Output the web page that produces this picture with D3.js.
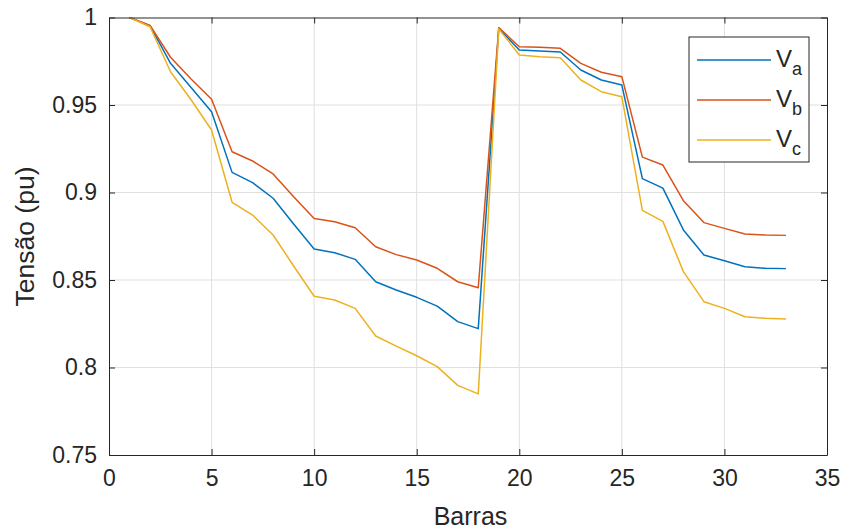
<!DOCTYPE html>
<html><head><meta charset="utf-8">
<script src="https://cdn.jsdelivr.net/npm/d3@7"></script>
<style>body{margin:0;background:#fff}svg{display:block}text{font-family:"Liberation Sans",Arial,sans-serif;fill:#262626}</style>
</head><body><svg id="c" width="846" height="532"></svg>
<script>
const bars = d3.range(1, 34);
const Va = [1.0, 0.9953, 0.9738, 0.960, 0.9462, 0.9115, 0.9056, 0.8967, 0.882, 0.8677, 0.8656, 0.8618, 0.849, 0.8443, 0.8401, 0.8351, 0.8262, 0.8222, 0.9938, 0.9814, 0.9809, 0.9803, 0.970, 0.9643, 0.9614, 0.9079, 0.9025, 0.8786, 0.8643, 0.861, 0.8576, 0.8567, 0.8565];
const Vb = [1.0, 0.9955, 0.9773, 0.9649, 0.9533, 0.9233, 0.918, 0.9106, 0.8976, 0.8851, 0.8833, 0.8799, 0.869, 0.8645, 0.8614, 0.8567, 0.849, 0.8456, 0.9942, 0.9833, 0.983, 0.9824, 0.9738, 0.9687, 0.9662, 0.9202, 0.9157, 0.8953, 0.8828, 0.8795, 0.8763, 0.8757, 0.8755];
const Vc = [1.0, 0.9947, 0.969, 0.953, 0.9357, 0.8944, 0.8871, 0.8757, 0.858, 0.8407, 0.8386, 0.8338, 0.818, 0.8122, 0.8067, 0.8005, 0.7898, 0.7849, 0.9935, 0.9786, 0.9776, 0.977, 0.9643, 0.9576, 0.9547, 0.8898, 0.8835, 0.8548, 0.8376, 0.8338, 0.829, 0.8281, 0.8277];
const xTicks = [0, 5, 10, 15, 20, 25, 30, 35];
const yTicks = [0.75, 0.8, 0.85, 0.9, 0.95, 1];
const seriesNames = ["a", "b", "c"];
const colors = ["#0072BD", "#D95319", "#EDB120"];

const L = 109, R = 827, T = 17.5, B = 455;
const svg = d3.select("#c");
const x = d3.scaleLinear().domain([0, 35]).range([L, R]);
const y = d3.scaleLinear().domain([0.75, 1]).range([B, T]);

// grid
const g = svg.append("g");
g.selectAll(".gx").data(xTicks.slice(1, -1)).join("line")
  .attr("x1", d => x(d)).attr("x2", d => x(d)).attr("y1", T).attr("y2", B)
  .attr("stroke", "#dfdfdf").attr("stroke-width", 1);
g.selectAll(".gy").data(yTicks.slice(1, -1)).join("line")
  .attr("y1", d => y(d)).attr("y2", d => y(d)).attr("x1", L).attr("x2", R)
  .attr("stroke", "#dfdfdf").attr("stroke-width", 1);

// lines
const line = d3.line().x((d, i) => x(bars[i])).y(d => y(d));
[Va, Vb, Vc].forEach((s, k) => {
  svg.append("path").datum(s).attr("d", line).attr("fill", "none")
    .attr("stroke", colors[k]).attr("stroke-width", 1.5).attr("stroke-linejoin", "round");
});

// axes
const axB = svg.append("g").attr("transform", `translate(0,${B})`)
  .call(d3.axisBottom(x).tickValues(xTicks).tickSizeInner(-6).tickSizeOuter(0).tickPadding(15).tickFormat(d3.format("d")));
const axT = svg.append("g").attr("transform", `translate(0,${T})`)
  .call(d3.axisTop(x).tickValues(xTicks).tickSizeInner(-6).tickSizeOuter(0).tickFormat(""));
const axL = svg.append("g").attr("transform", `translate(${L},0)`)
  .call(d3.axisLeft(y).tickValues(yTicks).tickSizeInner(-6).tickSizeOuter(0).tickPadding(12).tickFormat(d => d === 1 ? "1" : d3.format("")(d)));
const axR = svg.append("g").attr("transform", `translate(${R},0)`)
  .call(d3.axisRight(y).tickValues(yTicks).tickSizeInner(-6).tickSizeOuter(0).tickFormat(""));
[axB, axT, axL, axR].forEach(a => {
  a.select(".domain").attr("stroke", "#262626").attr("stroke-width", 1);
  a.selectAll(".tick line").attr("stroke", "#262626");
  a.selectAll("text").attr("font-size", 23).attr("fill", "#262626").attr("font-family", '"Liberation Sans",Arial,sans-serif');
});

// axis labels
svg.append("text").attr("x", 470.5).attr("y", 525).attr("text-anchor", "middle")
  .attr("font-size", 25).text("Barras");
svg.append("text").attr("transform", `translate(34,236.5) rotate(-90)`).attr("text-anchor", "middle")
  .attr("font-size", 26.5).text("Tensão (pu)");

// legend
const lg = svg.append("g");
lg.append("rect").attr("x", 689).attr("y", 37).attr("width", 120).attr("height", 125)
  .attr("fill", "#fff").attr("stroke", "#262626").attr("stroke-width", 1);
seriesNames.forEach((n, k) => {
  const yy = 60 + k * 40;
  lg.append("line").attr("x1", 697).attr("x2", 771).attr("y1", yy).attr("y2", yy)
    .attr("stroke", colors[k]).attr("stroke-width", 1.5);
  const t = lg.append("text").attr("x", 776).attr("y", yy + 7).attr("font-size", 24);
  t.append("tspan").text("V");
  t.append("tspan").attr("dy", 8).attr("font-size", 18).text(n);
});
</script></body></html>
